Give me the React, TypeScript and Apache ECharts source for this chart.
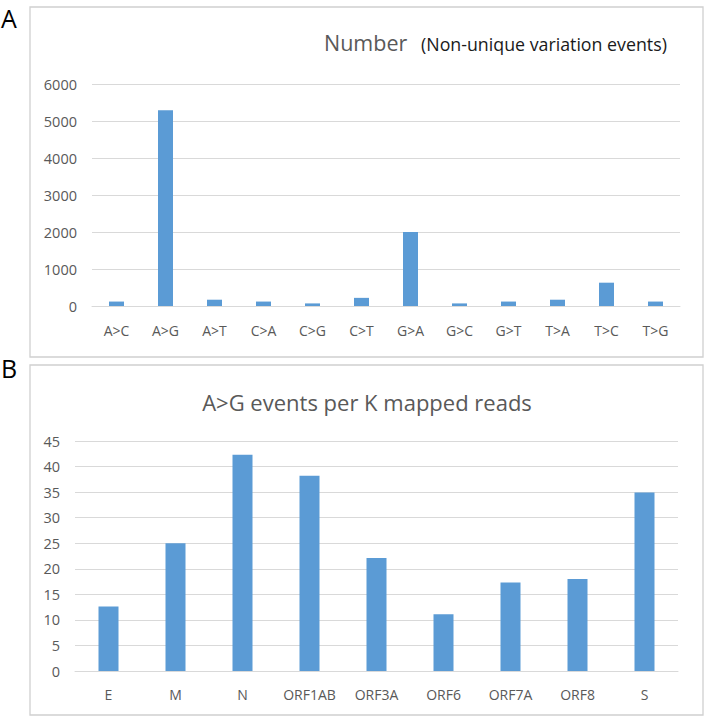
import React, { useEffect, useRef } from "react";
import * as echarts from "echarts";

// Panel A data
const mutationTypes = ["A>C", "A>G", "A>T", "C>A", "C>G", "C>T", "G>A", "G>C", "G>T", "T>A", "T>C", "T>G"];
const mutationCounts = [120, 5290, 170, 120, 70, 220, 2000, 70, 120, 170, 630, 120];
const countAxisMax = 6000;
const countAxisStep = 1000;

// Panel B data
const genes = ["E", "M", "N", "ORF1AB", "ORF3A", "ORF6", "ORF7A", "ORF8", "S"];
const agPerKReads = [12.6, 25.0, 42.3, 38.2, 22.1, 11.1, 17.3, 18.0, 34.9];
const rateAxisMax = 45;
const rateAxisStep = 5;

const titleA = "Number";
const subtitleA = "(Non-unique variation events)";
const titleB = "A>G events per K mapped reads";

const FONT = "'Open Sans', sans-serif";
const BAR = "#5B9BD5";
const GRID = "#D9D9D9";
const TXT = "#595959";

export default function App() {
  const ref = useRef<HTMLDivElement>(null);
  useEffect(() => {
    if (!ref.current) return;
    const chart = echarts.init(ref.current, null, { renderer: "svg" });
    const xAxisCommon = {
      type: "category" as const,
      axisLine: { lineStyle: { color: GRID, width: 1 } },
      axisTick: { show: false },
      axisLabel: { color: TXT, fontSize: 14, fontFamily: FONT, interval: 0 },
    };
    const yAxisCommon = {
      type: "value" as const,
      min: 0,
      axisLine: { show: false },
      axisTick: { show: false },
      splitLine: { lineStyle: { color: GRID, width: 1 } },
      axisLabel: {
        color: TXT,
        fontSize: 14.5,
        fontFamily: FONT,
        margin: 15,
        formatter: (v: number) => String(v),
      },
    };
    chart.setOption({
      animation: false,
      backgroundColor: "#ffffff",
      textStyle: { fontFamily: FONT },
      grid: [
        { left: 92, width: 588, top: 84, height: 222 },
        { left: 75, width: 603, top: 441, height: 230 },
      ],
      xAxis: [
        { ...xAxisCommon, gridIndex: 0, data: mutationTypes, axisLabel: { ...xAxisCommon.axisLabel, margin: 17 } },
        { ...xAxisCommon, gridIndex: 1, data: genes, axisLabel: { ...xAxisCommon.axisLabel, margin: 16 } },
      ],
      yAxis: [
        { ...yAxisCommon, gridIndex: 0, max: countAxisMax, interval: countAxisStep },
        { ...yAxisCommon, gridIndex: 1, max: rateAxisMax, interval: rateAxisStep },
      ],
      series: [
        { type: "bar", xAxisIndex: 0, yAxisIndex: 0, data: mutationCounts, barWidth: 15, itemStyle: { color: BAR } },
        { type: "bar", xAxisIndex: 1, yAxisIndex: 1, data: agPerKReads, barWidth: 20, itemStyle: { color: BAR } },
      ],
      graphic: [
        { type: "rect", shape: { x: 30, y: 7, width: 673, height: 350 }, style: { fill: "none", stroke: "#D0D0D0", lineWidth: 1.3 }, silent: true, z: -1 },
        { type: "rect", shape: { x: 30, y: 365, width: 673, height: 350 }, style: { fill: "none", stroke: "#D0D0D0", lineWidth: 1.3 }, silent: true, z: -1 },
        { type: "text", x: 1, y: 18, style: { text: "A", fill: "#000", fontSize: 25, fontFamily: FONT, textVerticalAlign: "middle" } },
        { type: "text", x: 1, y: 368, style: { text: "B", fill: "#000", fontSize: 25, fontFamily: FONT, textVerticalAlign: "middle" } },
        { type: "text", x: 324, y: 42, style: { text: titleA, fill: TXT, fontSize: 21.5, fontFamily: FONT, textVerticalAlign: "middle" } },
        { type: "text", x: 421, y: 44, style: { text: subtitleA, fill: "#1a1a1a", fontSize: 17.8, fontFamily: FONT, textVerticalAlign: "middle" } },
        { type: "text", x: 367, y: 402, style: { text: titleB, fill: TXT, fontSize: 22, fontFamily: FONT, textAlign: "center", textVerticalAlign: "middle" } },
      ],
    });
    return () => chart.dispose();
  }, []);
  return (
    <div
      ref={ref}
      style={{ position: "absolute", left: 0, top: 0, width: 704, height: 717, background: "#fff" }}
    />
  );
}
